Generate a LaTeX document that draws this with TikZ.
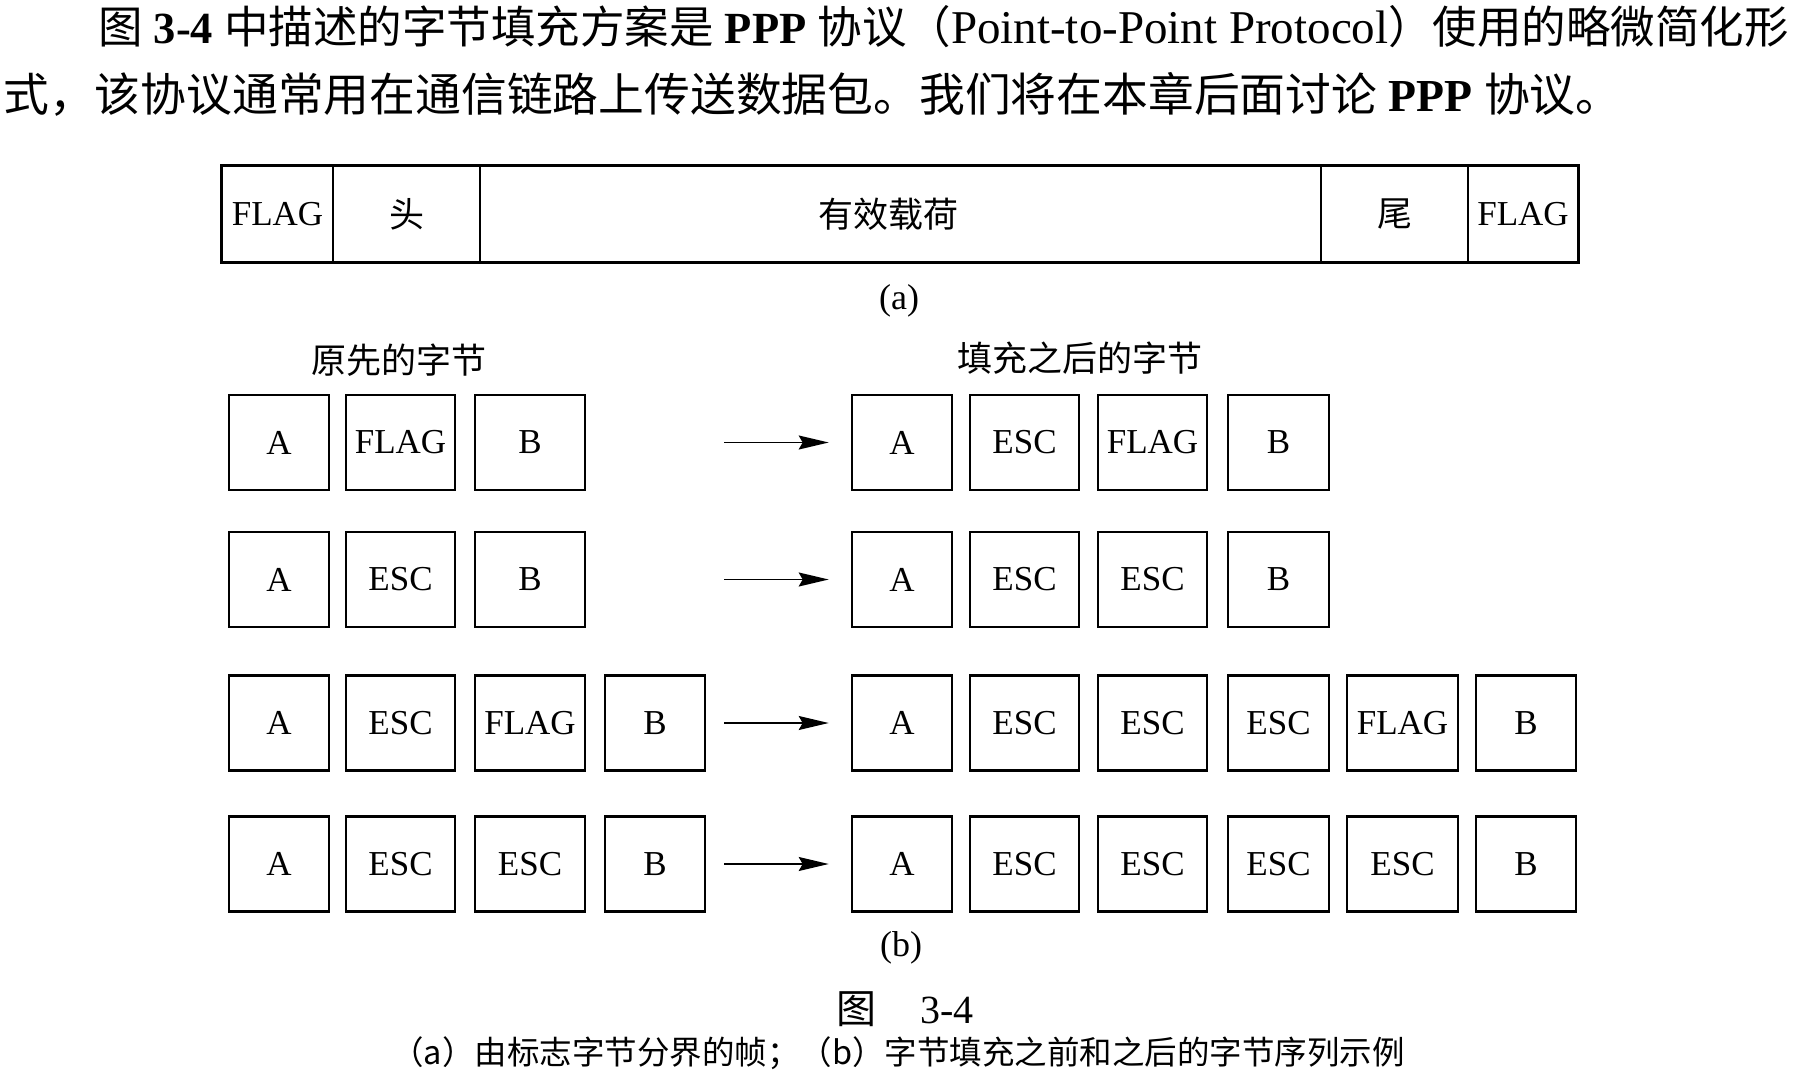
\documentclass[tikz,border=0pt]{standalone}
\usepackage{fontspec}
\setmainfont{Liberation Serif}
\newfontfamily\cjk{Noto Sans CJK SC}
\usetikzlibrary{arrows.meta}

% helpers for mixed Chinese / Latin text
\newcommand\zh[1]{{\cjk #1}}
\newcommand\enb[1]{{\bfseries #1}}
\newcommand\enr[1]{{\fontsize{47}{54}\selectfont #1}}

\begin{document}
\begin{tikzpicture}[x=1pt,y=-1pt,
  body/.style={anchor=base west, inner sep=0pt, font=\fontsize{45.8}{54}\selectfont},
  byte/.style={draw, line width=2.6pt, inner sep=0pt, minimum height=95pt,
               font=\fontsize{35}{40}\selectfont},
  cell/.style={draw, line width=1.6pt, inner sep=0pt, minimum height=96pt,
               font=\fontsize{35}{40}\selectfont},
  head/.style={inner sep=0pt, font=\cjk\fontsize{35}{40}\selectfont},
  sub/.style={inner sep=0pt, font=\fontsize{36}{40}\selectfont},
  arr/.style={line width=1.6pt, -{Stealth[length=30pt,width=14pt,inset=4pt]}}
]
\useasboundingbox (0,0) rectangle (1801,1075);

% running text above the figure
\node[body, font=\fontsize{44.5}{54}\selectfont] (line1) at (98,44)
  {\zh{图}\enb{\ 3-4\ }\zh{中描述的字节填充方案是}\enb{\ PPP\ }\zh{协议（}\enr{Point-to-Point Protocol}\zh{）使用的略微简化形}};
\node[body] (line2) at (3,112)
  {\zh{式，该协议通常用在通信链路上传送数据包。我们将在本章后面讨论}\enb{\ PPP\ }\zh{协议。}};

% (a) frame delimited by flag bytes
\foreach \nm/\xa/\xb/\txt in {fa/222/333/FLAG, fb/333/480/\zh{头},
    fc/480/1321/\zh{\hspace*{-24pt}有效载荷}, fd/1321/1468/\zh{尾}, fe/1468/1578/FLAG}
  \node[cell, minimum width={\xb-\xa}] (\nm) at ({(\xa+\xb)/2},214) {\txt};
\draw[line width=3pt] (fa.north west) rectangle (fe.south east);
\node[sub] (capa) at (899,301) {(a)};

% (b) byte sequences before and after stuffing
\node[head] (before) at (399,360) {原先的字节};
\node[head] (after) at (1080,358) {填充之后的字节};

% row 1
\foreach \nm/\xa/\xb/\txt in {p1a/228/330/A, p1b/345/456/FLAG, p1c/474/586/B,
    q1a/851/953/A, q1b/969/1080/ESC, q1c/1097/1208/FLAG, q1d/1227/1330/B}
  \node[byte, minimum width={\xb-\xa-2}] (\nm) at ({(\xa+\xb)/2},442.5) {\txt};
% row 2
\foreach \nm/\xa/\xb/\txt in {p2a/228/330/A, p2b/345/456/ESC, p2c/474/586/B,
    q2a/851/953/A, q2b/969/1080/ESC, q2c/1097/1208/ESC, q2d/1227/1330/B}
  \node[byte, minimum width={\xb-\xa-2}] (\nm) at ({(\xa+\xb)/2},579.5) {\txt};
% row 3
\foreach \nm/\xa/\xb/\txt in {p3a/228/330/A, p3b/345/456/ESC, p3c/474/586/FLAG, p3d/604/706/B,
    q3a/851/953/A, q3b/969/1080/ESC, q3c/1097/1208/ESC, q3d/1227/1330/ESC,
    q3e/1346/1459/FLAG, q3f/1475/1577/B}
  \node[byte, minimum width={\xb-\xa-2}] (\nm) at ({(\xa+\xb)/2},723) {\txt};
% row 4
\foreach \nm/\xa/\xb/\txt in {p4a/228/330/A, p4b/345/456/ESC, p4c/474/586/ESC, p4d/604/706/B,
    q4a/851/953/A, q4b/969/1080/ESC, q4c/1097/1208/ESC, q4d/1227/1330/ESC,
    q4e/1346/1459/ESC, q4f/1475/1577/B}
  \node[byte, minimum width={\xb-\xa-2}] (\nm) at ({(\xa+\xb)/2},864) {\txt};

% arrows from the original to the stuffed sequence
\foreach \r/\yy in {1/442.5, 2/579.5, 3/723, 4/864} {
  \coordinate (s\r) at (724,\yy);
  \draw[arr, shorten >=22pt] (s\r) -- (q\r a.west);
}
\node[sub] (capb) at (901,948) {(b)};

% figure number and caption
\node[anchor=west, inner sep=0pt] (fignum) at (836,1009)
  {\zh{\fontsize{40}{44}\selectfont 图}\hspace{44pt}{\fontsize{40}{44}\selectfont 3-4}};
\node[inner sep=0pt, font=\cjk\fontsize{32.5}{38}\selectfont] (caption) at (898,1053)
  {（a）由标志字节分界的帧；（b）字节填充之前和之后的字节序列示例};
\end{tikzpicture}
\end{document}
